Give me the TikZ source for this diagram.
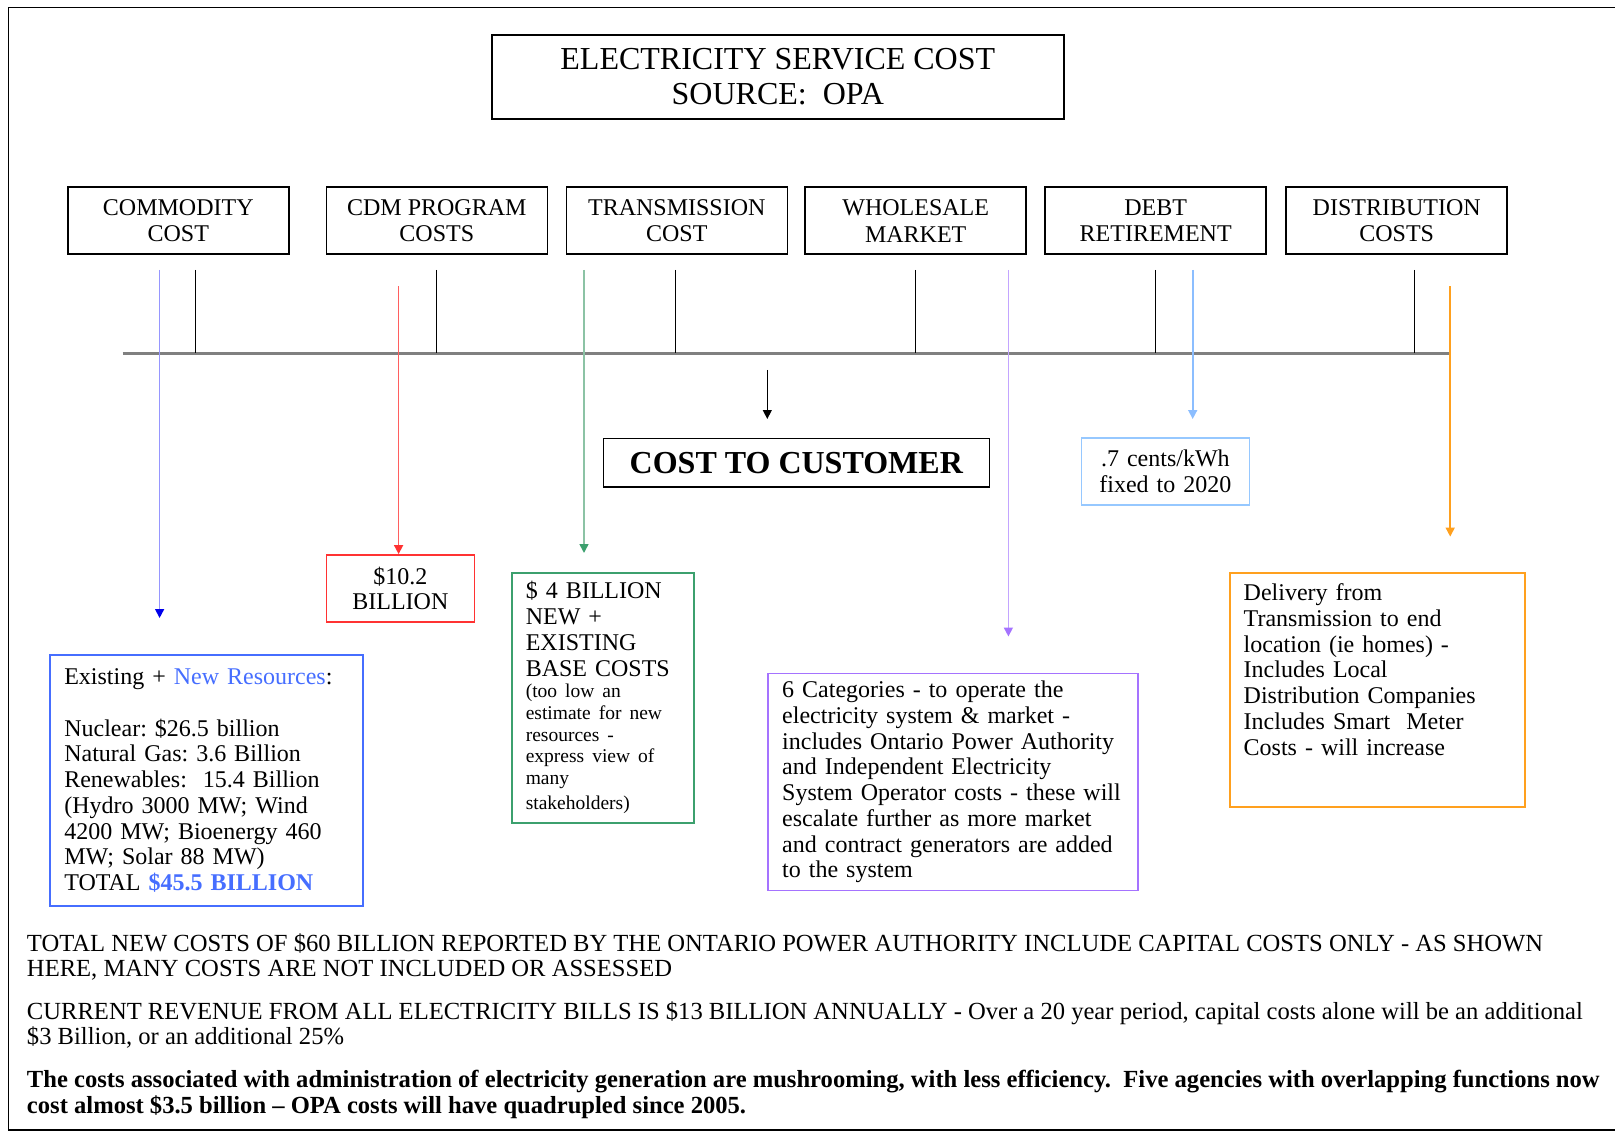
\documentclass[tikz,border=0pt]{standalone}
\usepackage{fontspec}
\setmainfont{Liberation Serif}
\usetikzlibrary{arrows.meta}
\frenchspacing

\definecolor{resblue}{RGB}{70,110,255}
\definecolor{resline}{RGB}{150,150,255}
\definecolor{restip}{RGB}{0,0,235}
\definecolor{cdmred}{RGB}{255,50,50}
\definecolor{cdmline}{RGB}{255,95,95}
\definecolor{transgreen}{RGB}{60,160,110}
\definecolor{transline}{RGB}{140,195,165}
\definecolor{marketpurple}{RGB}{165,115,255}
\definecolor{marketline}{RGB}{195,165,255}
\definecolor{debtblue}{RGB}{150,200,255}
\definecolor{debtline}{RGB}{140,190,255}
\definecolor{distorange}{RGB}{255,160,30}
\definecolor{railgray}{RGB}{128,128,128}

\newcommand{\titlefont}{\fontsize{32}{35}\selectfont}
\newcommand{\boxfont}{\fontsize{24}{26.8}\selectfont}
\newcommand{\notefont}{\fontsize{24}{25.75}\selectfont}
\newcommand{\smallnote}{\fontsize{19.5}{21.6}\selectfont}
\newcommand{\footfont}{\fontsize{24.6}{25.8}\selectfont}

\begin{document}
\begin{tikzpicture}[x=1pt, y=-1pt,
    framebox/.style={draw, line width=1.6pt, align=center, inner sep=0pt, anchor=north west},
    topbox/.style={framebox, minimum width=221pt, minimum height=67pt, font=\boxfont},
    note/.style={draw=#1, line width=1.8pt, anchor=north west, align=left,
        inner xsep=14pt, inner ysep=11pt, font=\notefont},
    tick/.style={line width=1.3pt},
    feed/.style 2 args={draw=#1, line width=1.6pt, -{Triangle[width=9pt,length=9pt,color=#2]}},
    bottomtext/.style={anchor=north west, align=left, inner sep=0pt, font=\footfont}]
    \useasboundingbox (0,0) rectangle (1615,1134);

    % outer frame (open on the right)
    \draw[line width=1.5pt] (1615,7.5) -- (8.5,7.5) -- (8.5,1130) -- (1615,1130);

    \node[framebox, minimum width=572pt, minimum height=84pt, font=\titlefont] (title) at (491,34)
        {ELECTRICITY SERVICE COST\\SOURCE:\ \ OPA};

    % cost components
    \node[topbox] (comm) at (67,186.4) {COMMODITY\\COST};
    \node[topbox] (cdm) at (325.5,186.4) {CDM PROGRAM\\COSTS};
    \node[topbox] (trans) at (565.5,186.4) {TRANSMISSION\\COST};
    \node[topbox] (whole) at (804.4,186.4) {WHOLESALE\\MARKET};
    \node[topbox] (debt) at (1044.4,186.4) {DEBT\\RETIREMENT};
    \node[topbox] (dist) at (1285.4,186.4) {DISTRIBUTION\\COSTS};

    \draw[railgray, line width=2.4pt] (122.6,353.3) -- (1450.2,353.3);
    \foreach \x in {195.7,436.7,675.7,915.7,1155.6,1414.2}
        \draw[tick] (\x,270) -- (\x,353.3);

    \node[framebox, minimum width=386pt, minimum height=48.5pt, font=\titlefont\bfseries] (customer) at (602.5,437.7)
        {COST TO CUSTOMER};
    \coordinate (sum-a) at (767.3,369.8);
    \coordinate (sum-b) at (767.3,419);
    \draw[feed={black}{black}, line width=1.3pt] (sum-a) -- (sum-b);

    % notes under each component
    \node[note=debtblue, align=center, text width=140pt, minimum height=67pt] (debtnote) at (1080.5,436.7)
        {.7 cents/kWh\\fixed to 2020};
    \node[note=cdmred, align=center, text width=120pt, minimum height=67pt] (cdmnote) at (325.5,554.1)
        {\$10.2\\BILLION};
    \node[note=transgreen, inner ysep=9pt, text width=154pt, minimum height=250pt] (transnote) at (510.9,571.7)
        {\$ 4 BILLION\\NEW +\\EXISTING\\BASE COSTS\par
        \smallnote (too low an\\estimate for new\\resources -\\express view of\\many\\stakeholders)};
    \node[note=resblue, text width=285pt, minimum height=251.4pt] (resnote) at (49.4,654)
        {Existing + \textcolor{resblue}{New Resources}:\\[25.75pt]
        Nuclear: \$26.5 billion\\Natural Gas: 3.6 Billion\\Renewables:\ \ 15.4 Billion\\
        (Hydro 3000 MW; Wind\\4200 MW; Bioenergy 460\\MW; Solar 88 MW)\\
        TOTAL \textcolor{resblue}{\bfseries\$45.5 BILLION}};
    \node[note=marketpurple, inner ysep=7.5pt, text width=342pt, minimum height=216.3pt] (marketnote) at (767.3,672.6)
        {6 Categories - to operate the\\electricity system \& market -\\
        includes Ontario Power Authority\\and Independent Electricity\\
        System Operator costs - these will\\escalate further as more market\\
        and contract generators are added\\to the system};
    \node[note=distorange, text width=267pt, minimum height=233.8pt] (distnote) at (1228.8,571.7)
        {Delivery from\\Transmission to end\\location (ie homes) -\\Includes Local\\
        Distribution Companies\\Includes Smart\ \ Meter\\Costs - will increase\rule[-41pt]{0pt}{41pt}};

    % feeds from components down to the notes
    \coordinate (comm-a) at (159.6,270);   \coordinate (comm-b) at (159.6,618);
    \coordinate (cdm-a) at (398.6,286.3);  \coordinate (cdm-b) at (398.6,554.1);
    \coordinate (trans-a) at (584,270);    \coordinate (trans-b) at (584,553);
    \coordinate (whole-a) at (1008.4,270); \coordinate (whole-b) at (1008.4,636.5);
    \coordinate (debt-a) at (1192.7,270);  \coordinate (debt-b) at (1192.7,419);
    \coordinate (dist-a) at (1450.2,286.3); \coordinate (dist-b) at (1450.2,536.6);
    \draw[feed={resline}{restip}] (comm-a) -- (comm-b);
    \draw[feed={cdmline}{cdmred}] (cdm-a) -- (cdm-b);
    \draw[feed={transline}{transgreen}] (trans-a) -- (trans-b);
    \draw[feed={marketline}{marketpurple}] (whole-a) -- (whole-b);
    \draw[feed={debtline}{debtline}] (debt-a) -- (debt-b);
    \draw[feed={distorange}{distorange}] (dist-a) -- (dist-b);

    \node[bottomtext] (total) at (26.8,933)
        {TOTAL NEW COSTS OF \$60 BILLION REPORTED BY THE ONTARIO POWER AUTHORITY INCLUDE CAPITAL COSTS ONLY - AS SHOWN\\
        HERE, MANY COSTS ARE NOT INCLUDED OR ASSESSED};
    \node[bottomtext] (revenue) at (26.8,1001)
        {CURRENT REVENUE FROM ALL ELECTRICITY BILLS IS \$13 BILLION ANNUALLY - Over a 20 year period, capital costs alone will be an additional\\
        \$3 Billion, or an additional 25\%};
    \node[bottomtext, font=\footfont\bfseries] (admin) at (26.8,1070)
        {The costs associated with administration of electricity generation are mushrooming, with less efficiency.\ \ Five agencies with overlapping functions now\\
        cost almost \$3.5 billion -- OPA costs will have quadrupled since 2005.};
\end{tikzpicture}
\end{document}
